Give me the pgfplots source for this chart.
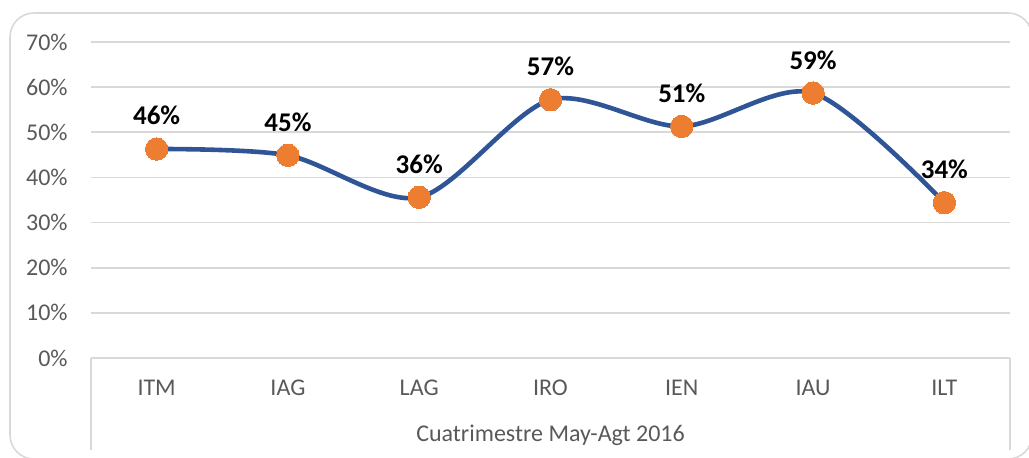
\documentclass[border=0pt]{standalone}
\usepackage{pgfplots}
\pgfplotsset{compat=1.18}
\usepackage{fontspec}
\setmainfont{Carlito}
\definecolor{gridgray}{HTML}{D9D9D9}
\definecolor{ticktext}{HTML}{595959}
\definecolor{lineblue}{HTML}{2F5597}
\definecolor{markorange}{HTML}{ED7D31}
\begin{document}
\begin{tikzpicture}
\useasboundingbox (0,0) rectangle (514.5pt,228.5pt);
\draw[gridgray, line width=0.8pt, rounded corners=12pt] (5pt,-1pt) rectangle (516pt,222pt);
\begin{axis}[
  at={(45.5pt,49.5pt)}, anchor=south west,
  scale only axis, width=459.5pt, height=158pt,
  xmin=-0.5, xmax=6.5, ymin=0, ymax=70,
  /pgf/number format/assume math mode=true,
  xtick={0,1,2,3,4,5,6},
  xticklabels={ITM,IAG,LAG,IRO,IEN,IAU,ILT},
  ytick={0,10,20,30,40,50,60,70},
  yticklabels={0\%,10\%,20\%,30\%,40\%,50\%,60\%,70\%},
  major tick length=0pt,
  axis line style={draw=none},
  ymajorgrids, grid style={gridgray, line width=0.8pt},
  tick label style={font=\fontsize{12}{14}\selectfont, text=ticktext},
  xticklabel style={anchor=center, yshift=-15pt},
  yticklabel style={anchor=east, inner sep=0pt, xshift=-11.5pt},
  xlabel={Cuatrimestre May-Agt 2016},
  xlabel style={at={(axis description cs:0.5,0)}, anchor=center, yshift=-38.5pt, font=\fontsize{12}{14}\selectfont, text=ticktext},
  clip=false,
  nodes near coords={\pgfmathprintnumber[fixed,precision=0,assume math mode=true]{\pgfplotspointmeta}\%},
  every node near coord/.append style={font=\fontsize{13.5}{15}\selectfont\bfseries, text=black, anchor=base, inner sep=0pt, yshift=12pt},
]
\addplot[lineblue, line width=2.3pt, smooth, tension=0.5,
  mark=*, mark size=5.6pt, mark options={fill=markorange, draw=markorange, line width=0pt}]
  coordinates {(0,46.3) (1,44.9) (2,35.6) (3,57.2) (4,51.3) (5,58.7) (6,34.4)};
\draw[gridgray, line width=0.8pt] (rel axis cs:0,0) -- (rel axis cs:1,0);
\draw[gridgray, line width=0.8pt] (rel axis cs:0,0) -- ([yshift=-46pt]rel axis cs:0,0);
\draw[gridgray, line width=0.8pt] (rel axis cs:1,0) -- ([yshift=-46pt]rel axis cs:1,0);
\end{axis}
\end{tikzpicture}
\end{document}
